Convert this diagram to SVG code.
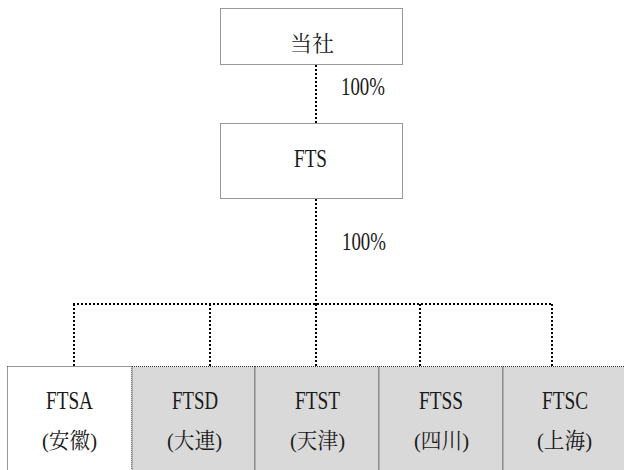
<svg xmlns="http://www.w3.org/2000/svg" width="624" height="470" viewBox="0 0 624 470">
  <rect width="624" height="470" fill="#ffffff"/>
  <g id="connectors" fill="none" stroke="#000000" stroke-width="2" stroke-dasharray="2 2">
    <line x1="316" y1="65" x2="316" y2="123"/>
    <line x1="316" y1="199" x2="316" y2="304"/>
    <line x1="73" y1="304" x2="553" y2="304"/>
    <line x1="74" y1="304" x2="74" y2="366"/>
    <line x1="210" y1="304" x2="210" y2="366"/>
    <line x1="316" y1="304" x2="316" y2="366"/>
    <line x1="420" y1="304" x2="420" y2="366"/>
    <line x1="552" y1="304" x2="552" y2="366"/>
  </g>
  <g id="labels" fill="#1a1a1a">
    <text x="341" y="95" font-family="Liberation Serif, serif" font-size="25" textLength="44" lengthAdjust="spacingAndGlyphs">100%</text>
    <text x="342" y="250" font-family="Liberation Serif, serif" font-size="25" textLength="44" lengthAdjust="spacingAndGlyphs">100%</text>
  </g>
  <g id="nodes" fill="#1a1a1a" stroke-width="1" stroke-dasharray="1 1">
    <g id="node-tousha">
      <rect x="220.5" y="8.5" width="182" height="56" fill="#ffffff" stroke="#333333"/>
      <text x="312" y="51" font-family="Noto Serif CJK JP, serif" font-size="22" text-anchor="middle" stroke="none">当社</text>
    </g>
    <g id="node-fts">
      <rect x="220.5" y="123.5" width="182" height="75" fill="#ffffff" stroke="#333333"/>
      <text x="294" y="167" font-family="Liberation Serif, serif" font-size="25" textLength="33" lengthAdjust="spacingAndGlyphs" stroke="none">FTS</text>
    </g>
    <g id="node-ftsa">
      <rect x="7.5" y="366.5" width="124.5" height="110" fill="#ffffff" stroke="#333333"/>
      <text x="46" y="409" font-family="Liberation Serif, serif" font-size="25" textLength="47" lengthAdjust="spacingAndGlyphs" stroke="none">FTSA</text>
      <text x="42" y="448" font-family="Liberation Serif, Noto Serif CJK JP, serif" font-size="22" textLength="55" lengthAdjust="spacingAndGlyphs" stroke="none">(安徽)</text>
    </g>
    <g id="node-ftsd">
      <rect x="132" y="366.5" width="123" height="110" fill="#d9d9d9" stroke="#333333"/>
      <text x="172" y="409" font-family="Liberation Serif, serif" font-size="25" textLength="46" lengthAdjust="spacingAndGlyphs" stroke="none">FTSD</text>
      <text x="167" y="448" font-family="Liberation Serif, Noto Serif CJK JP, serif" font-size="22" textLength="55" lengthAdjust="spacingAndGlyphs" stroke="none">(大連)</text>
    </g>
    <g id="node-ftst">
      <rect x="255" y="366.5" width="124" height="110" fill="#d9d9d9" stroke="#333333"/>
      <text x="295" y="409" font-family="Liberation Serif, serif" font-size="25" textLength="45" lengthAdjust="spacingAndGlyphs" stroke="none">FTST</text>
      <text x="290" y="448" font-family="Liberation Serif, Noto Serif CJK JP, serif" font-size="22" textLength="55" lengthAdjust="spacingAndGlyphs" stroke="none">(天津)</text>
    </g>
    <g id="node-ftss">
      <rect x="379" y="366.5" width="124" height="110" fill="#d9d9d9" stroke="#333333"/>
      <text x="419" y="409" font-family="Liberation Serif, serif" font-size="25" textLength="44" lengthAdjust="spacingAndGlyphs" stroke="none">FTSS</text>
      <text x="414" y="448" font-family="Liberation Serif, Noto Serif CJK JP, serif" font-size="22" textLength="55" lengthAdjust="spacingAndGlyphs" stroke="none">(四川)</text>
    </g>
    <g id="node-ftsc">
      <rect x="503" y="366.5" width="130" height="110" fill="#d9d9d9" stroke="#333333"/>
      <text x="542" y="409" font-family="Liberation Serif, serif" font-size="25" textLength="46" lengthAdjust="spacingAndGlyphs" stroke="none">FTSC</text>
      <text x="537" y="448" font-family="Liberation Serif, Noto Serif CJK JP, serif" font-size="22" textLength="55" lengthAdjust="spacingAndGlyphs" stroke="none">(上海)</text>
    </g>
  </g>
</svg>
